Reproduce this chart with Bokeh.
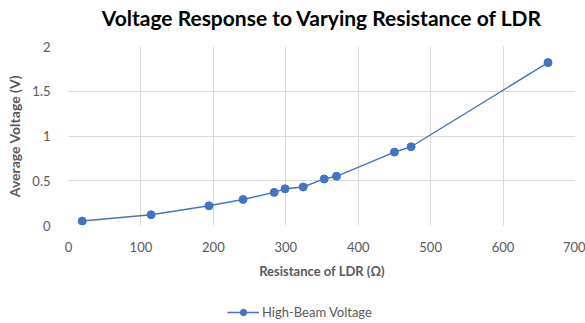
from bokeh.plotting import figure
from bokeh.layouts import column
from bokeh.models import Legend, LegendItem, Range1d, FixedTicker, Title
from bokeh.embed import file_html
from bokeh.resources import INLINE

resistance = [19, 114, 194, 241, 284, 299, 324, 353, 370, 450, 473, 662]
voltage = [0.05, 0.12, 0.22, 0.29, 0.37, 0.41, 0.43, 0.52, 0.55, 0.82, 0.88, 1.82]
x_ticks = [0, 100, 200, 300, 400, 500, 600, 700]
y_ticks = [0, 0.5, 1, 1.5, 2]
series_name = "High-Beam Voltage"

FONT = "Lato"
TXT = "#595959"
BLUE = "#4472C4"

p = figure(width=585, height=290, output_backend="svg", toolbar_location=None,
           x_range=Range1d(0, 700), y_range=Range1d(0, 2),
           min_border_left=68, min_border_right=10, min_border_top=46, min_border_bottom=65)
p.outline_line_color = None

# spacer between the title and the plot area
spacer = Title(text=" ", text_font_size="1px", standoff=12)
p.add_layout(spacer, "above")
t = Title(text="Voltage Response to Varying Resistance of LDR", align="center", standoff=3,
          text_font=FONT, text_font_size="21px", text_font_style="bold", text_color="#000000")
p.add_layout(t, "above")

ln = p.line(resistance, voltage, line_color=BLUE, line_width=1.4)
sc = p.scatter(resistance, voltage, size=8, fill_color=BLUE, line_color=BLUE)

for ax in (p.xaxis[0], p.yaxis[0]):
    ax.axis_line_color = None
    ax.major_tick_line_color = None
    ax.minor_tick_line_color = None
    ax.major_label_text_font = FONT
    ax.major_label_text_font_size = "13px"
    ax.major_label_text_color = TXT
    ax.axis_label_text_font = FONT
    ax.axis_label_text_font_size = "13px"
    ax.axis_label_text_font_style = "bold"
    ax.axis_label_text_color = TXT

p.yaxis.axis_label_text_font_size = "14px"
p.xaxis.ticker = FixedTicker(ticks=x_ticks)
p.yaxis.ticker = FixedTicker(ticks=y_ticks)
p.yaxis.major_label_overrides = {0: "0", 0.5: "0.5", 1: "1", 1.5: "1.5", 2: "2"}
p.xaxis.axis_label = "Resistance of LDR (Ω)"
p.yaxis.axis_label = "Average Voltage (V)"
p.xaxis.major_label_standoff = 10
p.yaxis.major_label_standoff = 12
p.xaxis.axis_label_standoff = 8
p.yaxis.axis_label_standoff = 6

p.xgrid.grid_line_color = "#D9D9D9"
p.ygrid.grid_line_color = "#D9D9D9"

# legend strip below the chart; its renderers use the series data but lie outside its ranges
lg = figure(width=585, height=33, output_backend="svg", toolbar_location=None,
            x_axis_location=None, y_axis_location=None,
            x_range=Range1d(-2, -1), y_range=Range1d(-2, -1),
            min_border=0, min_border_left=0, min_border_right=0,
            min_border_top=0, min_border_bottom=0)
lg.outline_line_color = None
lg.grid.visible = False
lln = lg.line(resistance, voltage, line_color=BLUE, line_width=1.4)
lsc = lg.scatter(resistance, voltage, size=8, fill_color=BLUE, line_color=BLUE)
legend = Legend(items=[LegendItem(label=series_name, renderers=[lln, lsc])],
                orientation="horizontal", location=(159, 3),
                label_text_font=FONT, label_text_font_size="13px", label_text_color=TXT,
                border_line_color=None, background_fill_alpha=0, margin=0, padding=0,
                glyph_width=32, glyph_height=16, label_height=16, label_standoff=3)
lg.add_layout(legend, "center")

layout = column(p, lg, spacing=0)
open("out.html", "w").write(file_html(layout, INLINE))
